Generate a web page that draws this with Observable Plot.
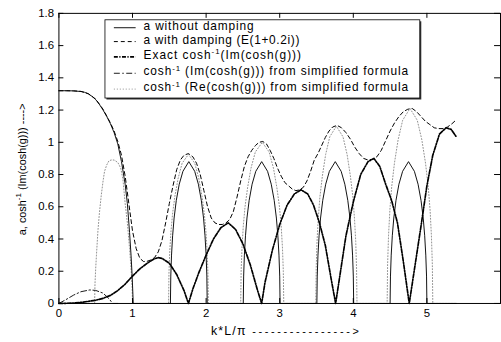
<!DOCTYPE html>
<html><head><meta charset="utf-8">
<script src="https://cdn.jsdelivr.net/npm/d3@7"></script>
<script src="https://cdn.jsdelivr.net/npm/@observablehq/plot@0.6"></script>
<style>html,body{margin:0;padding:0;overflow:hidden;background:#fff}#chart svg{display:block}</style>
</head><body><div id="chart"></div>
<script>
const xTicks = [0,1,2,3,4,5];
const xTickLabels = ["0","1","2","3","4","5"];
const yTicks = [0,0.2,0.4,0.6,0.8,1,1.2,1.4,1.6,1.8];
const yTickLabels = ["0","0.2","0.4","0.6","0.8","1","1.2","1.4","1.6","1.8"];

// a without damping
const aNoDampX = [0,0.1,0.2,0.3,0.35,0.4,0.45,0.5,0.55,0.6,0.65,0.7,0.75,0.8,0.85,0.9,0.93,0.96,0.98,0.995,1.01,
 1.515,1.52,1.53,1.545,1.565,1.595,1.635,1.685,1.765,1.845,1.895,1.935,1.965,1.985,2.0,2.01,2.015,
 2.505,2.51,2.52,2.535,2.555,2.585,2.625,2.675,2.755,2.835,2.885,2.925,2.955,2.975,2.99,3.0,3.005,
 3.505,3.51,3.52,3.535,3.555,3.585,3.625,3.675,3.755,3.835,3.885,3.925,3.955,3.975,3.99,4.0,4.005,
 4.5,4.505,4.515,4.53,4.55,4.58,4.62,4.67,4.75,4.83,4.88,4.92,4.95,4.97,4.985,4.995,5.0,
 5.4];
const aNoDampY = [1.32,1.32,1.319,1.315,1.31,1.3,1.285,1.265,1.235,1.2,1.16,1.115,1.06,0.99,0.88,0.74,0.62,0.44,0.3,0.17,0,
 0,0.17,0.3,0.42,0.53,0.64,0.74,0.82,0.88,0.82,0.74,0.64,0.53,0.42,0.3,0.17,0,
 0,0.17,0.3,0.42,0.53,0.64,0.74,0.82,0.88,0.82,0.74,0.64,0.53,0.42,0.3,0.17,0,
 0,0.17,0.3,0.42,0.53,0.64,0.74,0.82,0.88,0.82,0.74,0.64,0.53,0.42,0.3,0.17,0,
 0,0.17,0.3,0.42,0.53,0.64,0.74,0.82,0.88,0.82,0.74,0.64,0.53,0.42,0.3,0.17,0,
 0];

// a with damping (E(1+0.2i))
const aDampX = [0,0.1,0.2,0.3,0.4,0.5,0.6,0.7,0.75,0.8,0.85,0.9,0.95,1.0,1.05,1.1,1.15,1.2,1.25,1.3,1.35,1.4,1.45,1.5,1.55,1.6,1.65,1.7,1.76,1.82,
 1.87,1.92,1.97,2.02,2.07,2.12,2.17,2.22,2.27,2.32,2.37,2.42,2.47,2.52,2.57,2.62,2.67,2.72,2.77,2.82,2.87,2.92,2.97,3.02,3.07,3.12,3.17,3.22,3.27,3.32,3.37,3.42,3.47,3.52,3.57,3.62,3.67,3.72,
 3.78,3.84,3.9,3.96,4.02,4.08,4.14,4.2,4.26,4.32,4.38,4.44,4.5,4.56,4.62,4.68,4.74,4.8,4.86,4.92,4.98,5.04,5.1,5.16,5.22,5.28,5.34,5.4];
const aDampY = [1.32,1.32,1.319,1.316,1.302,1.268,1.205,1.12,1.07,1.005,0.92,0.79,0.62,0.45,0.34,0.28,0.26,0.262,0.27,0.285,0.32,0.39,0.5,0.62,0.73,0.83,0.89,0.92,0.93,0.91,
 0.87,0.8,0.7,0.6,0.53,0.5,0.49,0.49,0.5,0.52,0.57,0.66,0.76,0.85,0.91,0.95,0.98,1.0,1.005,0.99,0.95,0.9,0.84,0.79,0.75,0.73,0.71,0.7,0.705,0.72,0.76,0.82,0.89,0.93,0.98,1.03,1.07,1.095,
 1.105,1.09,1.06,1.02,0.97,0.93,0.9,0.89,0.895,0.91,0.95,1.01,1.07,1.12,1.16,1.19,1.205,1.21,1.19,1.16,1.13,1.11,1.09,1.085,1.085,1.095,1.115,1.14];

// Exact cosh^-1(Im(cosh(g)))
const exactX = [0,0.1,0.2,0.3,0.4,0.5,0.6,0.7,0.8,0.9,1.0,1.1,1.2,1.3,1.35,1.4,1.5,1.6,1.7,1.76,1.82,1.9,
 2.0,2.1,2.2,2.3,2.4,2.5,2.6,2.7,2.755,2.8,2.9,3.0,3.1,3.2,3.29,3.38,3.46,3.54,3.62,3.7,3.76,3.82,3.9,
 4.0,4.1,4.2,4.28,4.36,4.44,4.52,4.6,4.68,4.76,4.84,4.92,5.0,5.08,5.17,5.26,5.33,5.4];
const exactY = [0,0.001,0.003,0.007,0.013,0.02,0.032,0.05,0.08,0.12,0.17,0.215,0.25,0.278,0.284,0.28,0.25,0.18,0.08,0,0.09,0.19,
 0.3,0.4,0.47,0.5,0.46,0.37,0.24,0.08,0,0.13,0.33,0.49,0.61,0.68,0.705,0.68,0.61,0.5,0.36,0.15,0,0.18,0.42,
 0.63,0.8,0.88,0.9,0.85,0.74,0.64,0.5,0.26,0,0.24,0.48,0.73,0.92,1.05,1.09,1.08,1.034];

// cosh^-1 (Im(cosh(g))) from simplified formula
const simpImX = [0,0.1,0.2,0.3,0.42,0.5,0.6,0.68,0.73,0.8];
const simpImY = [0,0.025,0.052,0.073,0.084,0.081,0.064,0.03,0,0];

// cosh^-1 (Re(cosh(g))) from simplified formula
const simpReX = [0,0.485,0.49,0.5,0.51,0.53,0.55,0.575,0.6,0.62,0.65,0.68,0.71,0.75,0.8,0.84,0.87,0.9,0.93,0.96,0.98,0.995,1.0,
 1.49,1.495,1.506,1.522,1.544,1.576,1.62,1.674,1.76,1.846,1.9,1.944,1.976,1.998,2.014,2.025,2.03,
 2.47,2.476,2.488,2.505,2.529,2.564,2.61,2.669,2.763,2.856,2.915,2.961,2.997,3.02,3.037,3.049,3.055,
 3.49,3.496,3.507,3.524,3.546,3.58,3.624,3.68,3.77,3.86,3.916,3.96,3.994,4.016,4.033,4.044,4.05,
 4.46,4.466,4.479,4.497,4.522,4.559,4.609,4.671,4.77,4.869,4.931,4.981,5.018,5.043,5.061,5.074,5.08,
 5.4];
const simpReY = [0,0,0.12,0.22,0.3,0.45,0.56,0.67,0.76,0.82,0.86,0.885,0.89,0.89,0.875,0.84,0.77,0.62,0.5,0.34,0.22,0.1,0,
 0,0.185,0.324,0.444,0.555,0.666,0.777,0.87,0.925,0.87,0.777,0.666,0.555,0.444,0.324,0.185,0,
 0,0.2,0.35,0.48,0.6,0.72,0.84,0.94,1.0,0.94,0.84,0.72,0.6,0.48,0.35,0.2,0,
 0,0.22,0.385,0.528,0.66,0.792,0.924,1.034,1.1,1.034,0.924,0.792,0.66,0.528,0.385,0.22,0,
 0,0.242,0.424,0.581,0.726,0.871,1.016,1.137,1.21,1.137,1.016,0.871,0.726,0.581,0.424,0.242,0,
 0];

const legendLabels = [
  "a without damping",
  "a with damping (E(1+0.2i))",
  "Exact cosh^{-1}(Im(cosh(g)))",
  "cosh^{-1} (Im(cosh(g))) from simplified formula",
  "cosh^{-1} (Re(cosh(g))) from simplified formula"
];
const xLabelMain = "k*L/\u03c0";
const xLabelArrow = " ---------------->";
const yLabel = "a, cosh^{-1} (Im(cosh(g))) ---->";

const zip = (xs, ys) => xs.map((x, i) => ({x, y: ys[i]}));

const styles = {
  re:    {stroke: "#909090", strokeWidth: 1, strokeDasharray: "1,2"},
  nod:   {stroke: "#111", strokeWidth: 1},
  damp:  {stroke: "#000", strokeWidth: 1, strokeDasharray: "4,3"},
  im:    {stroke: "#000", strokeWidth: 0.9, strokeDasharray: "6,2.5,1.5,2.5"},
  exact: {stroke: "#000", strokeWidth: 1.7, strokeDasharray: "4,1.5,1.2,1.5"}
};

const fmt = (ticks, labels) => d => labels[ticks.indexOf(d)];
const TICK = 5;

const svg = Plot.plot({
  width: 506, height: 342,
  marginLeft: 59, marginRight: 1, marginTop: 13, marginBottom: 36,
  style: {fontFamily: "'Liberation Sans', Arial, sans-serif", fontSize: "11.5px", color: "#000", background: "#fff"},
  x: {domain: [0, 6], label: null},
  y: {domain: [0, 1.8], label: null},
  marks: [
    Plot.line(zip(simpReX, simpReY), {x: "x", y: "y", ...styles.re}),
    Plot.line(zip(aNoDampX, aNoDampY), {x: "x", y: "y", ...styles.nod}),
    Plot.line(zip(aDampX, aDampY), {x: "x", y: "y", ...styles.damp}),
    Plot.line(zip(simpImX, simpImY), {x: "x", y: "y", ...styles.im}),
    Plot.line(zip(exactX, exactY), {x: "x", y: "y", ...styles.exact}),
    // inward tick marks on all four sides
    Plot.ruleX(xTicks, {x: d => d, stroke: "#000", insetTop: 293 - TICK}),
    Plot.ruleX(xTicks, {x: d => d, stroke: "#000", insetBottom: 293 - TICK}),
    Plot.ruleY(yTicks, {y: d => d, stroke: "#000", insetRight: 446 - TICK}),
    Plot.ruleY(yTicks, {y: d => d, stroke: "#000", insetLeft: 446 - TICK - 1}),
    Plot.frame({stroke: "#000"}),
    Plot.axisX(xTicks, {anchor: "bottom", tickSize: 0, tickPadding: 6, tickFormat: fmt(xTicks, xTickLabels), label: null}),
    Plot.axisY(yTicks, {anchor: "left", tickSize: 0, tickPadding: 5, tickFormat: fmt(yTicks, yTickLabels), label: null})
  ]
});
document.getElementById("chart").appendChild(svg);

const root = d3.select(svg);
function richText(sel, str) {
  const parts = str.split(/\^\{([^}]*)\}/);
  let shift = 0;
  parts.forEach((p, i) => {
    if (!p) return;
    if (i % 2 === 1) {
      sel.append("tspan").attr("dy", -4.5).attr("font-size", 8).text(p);
      shift = 4.5;
    } else {
      const t = sel.append("tspan").text(p);
      if (shift) { t.attr("dy", shift); shift = 0; }
    }
  });
}
// widen a text to a target width by letter spacing (layout only)
function fitWidth(sel, target) {
  const node = sel.node();
  const n = node.textContent.length;
  const w = node.getComputedTextLength();
  if (n > 1 && w < target) sel.attr("letter-spacing", ((target - w) / n).toFixed(3));
}

// axis labels
const xl = root.append("text").attr("x", 213).attr("y", 338).attr("text-anchor", "start")
  .attr("font-size", 11).attr("fill", "#000");
const xlMain = xl.append("tspan").attr("font-size", 12.5).attr("letter-spacing", 1.2).text(xLabelMain);
const xlArrow = xl.append("tspan").text(xLabelArrow);
{
  const wMain = xlMain.node().getComputedTextLength();
  const wArrow = xlArrow.node().getComputedTextLength();
  const target = 152 - wMain;
  if (wArrow < target) xlArrow.attr("letter-spacing", ((target - wArrow) / xLabelArrow.length).toFixed(3));
}
const yl = root.append("text").attr("transform", "translate(26,171) rotate(-90)").attr("text-anchor", "middle")
  .attr("font-size", 11).attr("fill", "#000");
richText(yl, yLabel);

// legend
const lg = root.append("g").attr("text-anchor", "start");
const bx = 106, by = 20, bw = 318, bh = 79;
lg.append("rect").attr("x", bx + 1.5).attr("y", by + 1.5).attr("width", bw).attr("height", bh).attr("fill", "#333");
lg.append("rect").attr("x", bx).attr("y", by).attr("width", bw).attr("height", bh).attr("fill", "#fff").attr("stroke", "#000").attr("stroke-width", 0.8);
const rowBase = [30, 44, 59.5, 76, 92];
const rowWidth = [112, 158, 160, 268, 268];
const legStyles = [styles.nod, styles.damp, styles.exact, styles.im, styles.re];
legendLabels.forEach((lab, i) => {
  const s = legStyles[i];
  lg.append("line").attr("x1", 115).attr("x2", 137).attr("y1", rowBase[i] - 2).attr("y2", rowBase[i] - 2)
    .attr("stroke", s.stroke).attr("stroke-width", s.strokeWidth).attr("stroke-dasharray", s.strokeDasharray || null);
  const t = lg.append("text").attr("x", 145).attr("y", rowBase[i]).attr("font-size", 12).attr("fill", "#000")
    .attr("text-anchor", "start");
  richText(t, lab);
  fitWidth(t, rowWidth[i]);
});
</script>
</body></html>
